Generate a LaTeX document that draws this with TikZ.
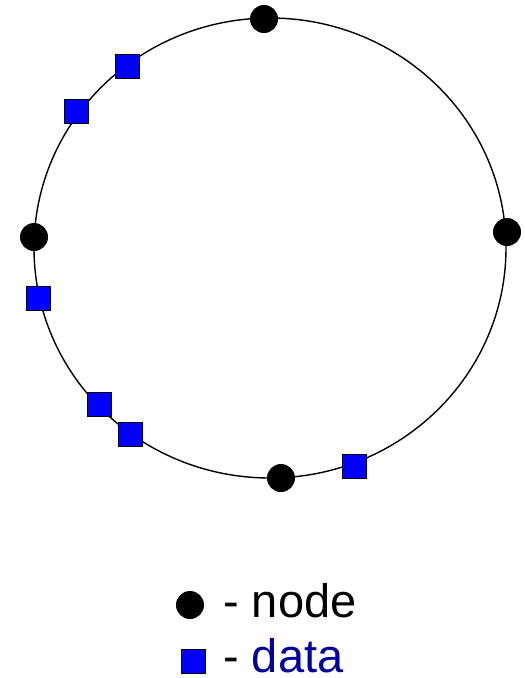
\documentclass[tikz,border=0pt]{standalone}
\usepackage{fontspec}
\setmainfont{Liberation Sans}
\definecolor{datablue}{RGB}{0,0,255}
\definecolor{legendblue}{RGB}{0,0,160}
\begin{document}
\begin{tikzpicture}[x=1pt,y=-1pt,
  peer/.style={circle,fill=black,minimum size=28pt,inner sep=0pt},
  datum/.style={rectangle,fill=datablue,draw=black,line width=0.9pt,minimum size=24pt,inner sep=0pt},
  legtext/.style={anchor=base west,inner sep=0pt,font=\fontsize{47}{54}\selectfont}]
\useasboundingbox (0,0) rectangle (525,678);
\draw[line width=1.4pt] (270,248) ellipse [x radius=236, y radius=230];
\node[peer] (n1) at (264,19) {};
\node[peer] (n2) at (34,237) {};
\node[peer] (n3) at (507,232) {};
\node[peer] (n4) at (281,478) {};
\node[datum] (d1) at (127,66) {};
\node[datum] (d2) at (76,111) {};
\node[datum] (d3) at (38,298) {};
\node[datum] (d4) at (99,404) {};
\node[datum] (d5) at (130,434) {};
\node[datum] (d6) at (354,466) {};
\node[peer] (lp) at (190,605) {};
\node[legtext] (lt1) at (223,617) {- node};
\node[datum] (ld) at (193.5,661.5) {};
\node[legtext] (lt2) at (223,672.5) {- \textcolor{legendblue}{data}};
\end{tikzpicture}
\end{document}
